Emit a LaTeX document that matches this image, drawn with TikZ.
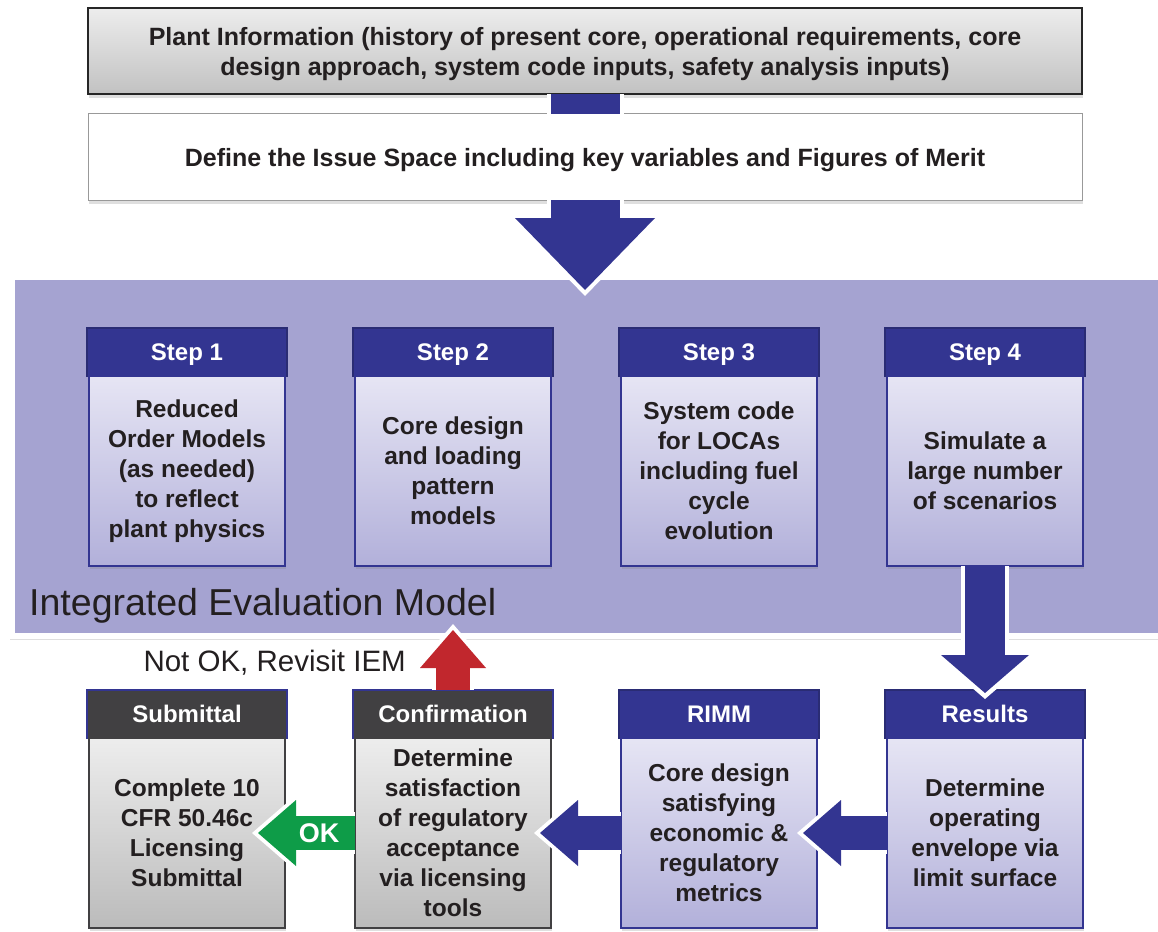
\documentclass[tikz,border=0pt]{standalone}
\usepackage{fontspec}
\setmainfont{Liberation Sans}
\usetikzlibrary{arrows.meta, positioning, calc, shadows}

\definecolor{iemblue}{HTML}{333591}
\definecolor{iemedge}{HTML}{2A2C74}
\definecolor{iempanel}{HTML}{A5A3D1}
\definecolor{bodytop}{HTML}{E6E5F4}
\definecolor{bodybot}{HTML}{B2B0DA}
\definecolor{graytop}{HTML}{EDEDED}
\definecolor{graybot}{HTML}{BBBBBB}
\definecolor{darkhead}{HTML}{414042}
\definecolor{okgreen}{HTML}{0E9C48}
\definecolor{revisitred}{HTML}{C1272D}
\definecolor{inktext}{HTML}{231F20}

\tikzstyle{infobox} = [rectangle, outer sep=0pt, minimum width=994pt, minimum height=86pt, text depth=0pt, align=center, text=inktext, font=\fontsize{25}{30}\selectfont\bfseries, drop shadow={opacity=0.25, shadow xshift=1pt, shadow yshift=-4pt}]
\tikzstyle{panel} = [rectangle, outer sep=0pt, minimum width=1158pt, minimum height=359pt, fill=iempanel, draw=white, line width=6pt, drop shadow={opacity=0.25, shadow xshift=-2pt, shadow yshift=-4pt}]
\tikzstyle{stephead} = [rectangle, outer sep=0pt, minimum width=200pt, minimum height=48pt, text depth=0pt, fill=iemblue, draw=iemedge, line width=2pt, text=white, font=\fontsize{24}{28}\selectfont\bfseries]
\tikzstyle{stepbody} = [rectangle, outer sep=0pt, minimum width=196pt, minimum height=190pt, top color=bodytop, bottom color=bodybot, draw=iemblue, line width=1.5pt, align=center, text=inktext, font=\fontsize{24.5}{30}\selectfont\bfseries, drop shadow={opacity=0.25, shadow xshift=1pt, shadow yshift=-3pt}]
\tikzstyle{grayhead} = [stephead, fill=darkhead, draw=iemblue]
\tikzstyle{graybody} = [stepbody, top color=graytop, bottom color=graybot, draw=darkhead]
\tikzstyle{bigarrow} = [draw=iemblue, line width=69pt, -{Triangle[width=140pt, length=72pt, line width=0pt]}]
\tikzstyle{bighalo} = [draw=white, line width=77pt, -{Triangle[width=159pt, length=82pt, line width=0pt]}, shorten >=-6pt]
\tikzstyle{flow} = [draw=iemblue, line width=34pt, -{Triangle[width=66pt, length=38pt, line width=0pt]}]
\tikzstyle{flowhalo} = [draw=white, line width=42pt, -{Triangle[width=83pt, length=48pt, line width=0pt]}, shorten >=-6pt]

\begin{document}
\begin{tikzpicture}[x=1pt, y=-1pt, node distance=66pt]
\useasboundingbox (0,0) rectangle (1158,931);

\node (plant) [infobox, top color=graytop, bottom color=graybot!90, draw=black!85, line width=1.2pt] at (585,51) {Plant Information (history of present core, operational requirements, core\\design approach, system code inputs, safety analysis inputs)};
\node (issue) [infobox, fill=white, draw=black!40, line width=1pt, below=20pt of plant] {Define the Issue Space including key variables and Figures of Merit};

% integrated evaluation model
\node (iem) [panel, anchor=north west] at (12,277) {};
\node (iemlabel) [anchor=base west, inner sep=0pt, text=inktext, font=\fontsize{37.5}{40}\selectfont] at (29,615) {Integrated Evaluation Model};

\node (s1) [stephead] at (187,352) {Step 1};
\node (s1b) [stepbody, below=0pt of s1] {Reduced\\Order Models\\(as needed)\\to reflect\\plant physics};
\node (s2) [stephead, right=of s1] {Step 2};
\node (s2b) [stepbody, below=0pt of s2] {Core design\\and loading\\pattern\\models};
\node (s3) [stephead, right=of s2] {Step 3};
\node (s3b) [stepbody, below=0pt of s3] {System code\\for LOCAs\\including fuel\\cycle\\evolution};
\node (s4) [stephead, right=of s3] {Step 4};
\node (s4b) [stepbody, below=0pt of s4] {Simulate a\\large number\\of scenarios};

% evaluation row, read right to left
\node (sub) [grayhead] at (187,714) {Submittal};
\node (subb) [graybody, below=0pt of sub] {Complete 10\\CFR 50.46c\\Licensing\\Submittal};
\node (conf) [grayhead, right=of sub] {Confirmation};
\node (confb) [graybody, below=0pt of conf] {Determine\\satisfaction\\of regulatory\\acceptance\\via licensing\\tools};
\node (rimm) [stephead, right=of conf] {RIMM};
\node (rimmb) [stepbody, below=0pt of rimm] {Core design\\satisfying\\economic \&\\regulatory\\metrics};
\node (res) [stephead, right=of rimm] {Results};
\node (resb) [stepbody, below=0pt of res] {Determine\\operating\\envelope via\\limit surface};

\coordinate (intoiem) at ($(issue.south |- iem.north)+(0,13)$);
\coordinate (intores) at ($(res.north)+(0,3)$);
\coordinate (intorimm) at ($(rimmb.east)+(-14,0)$);
\coordinate (intoconf) at ($(confb.east)+(-11,0)$);
\coordinate (intosub) at ($(subb.east)+(-27,0)$);
\coordinate (backiem) at ($(conf.north |- iem.south)+(0,-6)$);

\draw [draw=white, line width=77pt] (plant) -- (issue);
\draw [draw=iemblue, line width=69pt] (plant) -- (issue);
\draw [bighalo] (issue) -- (intoiem);
\draw [bigarrow] (issue) -- (intoiem);

\draw [flowhalo, line width=48pt, -{Triangle[width=109pt, length=47pt, line width=0pt]}] (s4b) -- (intores);
\draw [flow, line width=40pt, -{Triangle[width=88pt, length=38pt, line width=0pt]}] (s4b) -- (intores);
\draw [flowhalo] (resb) -- (intorimm);
\draw [flow] (resb) -- (intorimm);
\draw [flowhalo] (rimmb) -- (intoconf);
\draw [flow] (rimmb) -- (intoconf);
\draw [flowhalo] (confb) -- (intosub);
\draw [flow, draw=okgreen] (confb) -- node[pos=0.37, text=white, font=\fontsize{27}{30}\selectfont\bfseries] {OK} (intosub);
\draw [flowhalo] (conf) -- (backiem);
\draw [flow, draw=revisitred] (conf) -- (backiem);

\node (notok) [anchor=east, inner sep=0pt, text=inktext, font=\fontsize{29.5}{32}\selectfont] at ($(conf.north)+(-47,-27)$) {Not OK, Revisit IEM};

\end{tikzpicture}
\end{document}
